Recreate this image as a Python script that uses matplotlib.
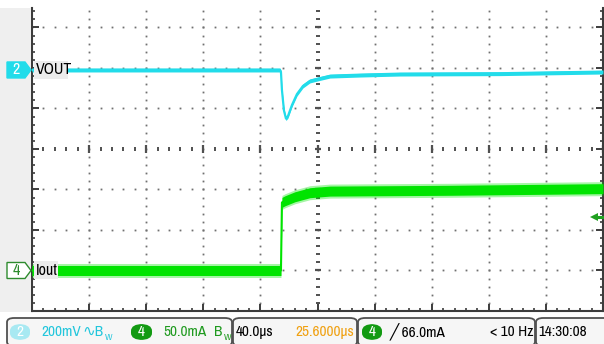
import matplotlib
matplotlib.use("Agg")
import logging
logging.getLogger("matplotlib.font_manager").setLevel(logging.ERROR)
import matplotlib.pyplot as plt
from matplotlib.patches import FancyBboxPatch, Polygon, Rectangle
from matplotlib.ticker import MultipleLocator
import numpy as np

# ---- acquisition settings -------------------------------------------------
CH2_SCALE_MV = 200.0    # mV/div
CH4_SCALE_MA = 50.0     # mA/div
TIME_SCALE_US = 40.0    # us/div
H_DELAY_US = 25.6       # trigger point to screen centre
CH2_POS = 1.95          # div
CH4_POS = -3.0          # div
TRIG_LEVEL_MA = 66.0

# ---- channel 2: VOUT (AC coupled), deviation in mV ------------------------
vout_t = [-174.4, -0.7, 0.0, 0.7, 2.1, 3.5, 4.9, 7.7, 11.2, 15.4, 20.3, 25.9,
          34.3, 55.3, 83.4, 153.4, 225.6]
vout_mv = [0, 0, -10, -100, -200, -240, -228, -173, -119, -79, -54, -44,
           -30, -25, -20, -18, -10]

# ---- channel 4: Iout, mA ---------------------------------------------------
iout_t = [-174.4, 0.0, 0.7, 2.8, 9.8, 20.3, 34.3, 120.0, 225.6]
iout_ma = [0, 0, 84, 86, 91, 96, 98, 99, 101]

W, H = 604, 344
fig = plt.figure(figsize=(W / 100, H / 100), dpi=100)
fig.patch.set_facecolor("white")

NARROW = ["Liberation Sans Narrow", "Arial Narrow", "Archivo Narrow",
          "PT Sans Narrow", "Roboto Condensed", "Open Sans Condensed",
          "Roboto", "DejaVu Sans"]


def fx(px):
    return px / W


def fy(py):
    return 1 - py / H


# screen area (top of graticule is cut off)
Y_TOP = 3.48
ax = fig.add_axes([fx(32), fy(311), fx(603) - fx(32), fy(8) - fy(311)])
ax.set_xlim(-5, 5)
ax.set_ylim(-4, Y_TOP)
ax.set_facecolor("white")

for s in ("left", "bottom", "right"):
    ax.spines[s].set_color("#3c3c3c")
    ax.spines[s].set_linewidth(1.5)
ax.spines["top"].set_visible(False)

ax.xaxis.set_major_locator(MultipleLocator(1))
ax.xaxis.set_minor_locator(MultipleLocator(0.2))
ax.yaxis.set_major_locator(MultipleLocator(1))
ax.yaxis.set_minor_locator(MultipleLocator(0.2))
ax.tick_params(which="both", direction="in", colors="#3c3c3c",
               labelbottom=False, labelleft=False,
               left=True, right=True, bottom=True, top=False)
ax.tick_params(which="major", length=5, width=1.4)
ax.tick_params(which="minor", length=2.5, width=1.2)

# dotted graticule
GRID = "#707070"
minor_x = np.arange(-5, 5.001, 0.2)
minor_y = np.arange(-4, Y_TOP, 0.2)
for xv in range(-4, 5):
    if xv == 0:
        continue
    ax.plot(np.full_like(minor_y, xv), minor_y, ls="none", marker="s",
            ms=1.3, color=GRID, mew=0, zorder=1)
for yv in (-3, -2, -1, 1, 2, 3):
    ax.plot(minor_x, np.full_like(minor_x, yv), ls="none", marker="s",
            ms=1.3, color=GRID, mew=0, zorder=1)

# centre cross with dashes
ax.plot(np.zeros_like(minor_y), minor_y, ls="none", marker="_", ms=3.5,
        mew=1.4, color="#505050", zorder=1)
ax.plot(np.zeros(8), np.arange(-4, 4), ls="none", marker="_", ms=5,
        mew=1.6, color="#505050", zorder=1)
ax.plot(minor_x, np.zeros_like(minor_x), ls="none", marker="|", ms=3.5,
        mew=1.4, color="#505050", zorder=1)
ax.plot(np.arange(-5, 6), np.zeros(11), ls="none", marker="|", ms=5.5,
        mew=1.6, color="#505050", zorder=1)


def tdiv(t):
    return (np.asarray(t, float) - H_DELAY_US) / TIME_SCALE_US


PX_DIV = 40.5   # screen pixels per vertical division
GREEN = "#00e400"
CYAN = "#22dcea"

# Iout: noisy band drawn as a vertical envelope plus thin core
ix = tdiv(iout_t)
iy = CH4_POS + np.asarray(iout_ma, float) / CH4_SCALE_MA
ax.fill_between(ix, iy - 7 / PX_DIV, iy + 7 / PX_DIV, color=GREEN,
                alpha=0.35, lw=0, zorder=3)
ax.fill_between(ix, iy - 5 / PX_DIV, iy + 5 / PX_DIV, color=GREEN,
                lw=0, zorder=3)
ax.plot(ix, iy, color=GREEN, lw=1.5, zorder=3)

# VOUT
vx = tdiv(vout_t)
vy = CH2_POS + np.asarray(vout_mv, float) / CH2_SCALE_MV
ax.fill_between(vx, vy - 2 / PX_DIV, vy + 2 / PX_DIV, color=CYAN, lw=0,
                zorder=4)
ax.plot(vx, vy, color=CYAN, lw=1.6, zorder=4)

# trigger level marker on the right edge
trig_y = CH4_POS + TRIG_LEVEL_MA / CH4_SCALE_MA
ax.plot([4.84], [trig_y], marker="<", ms=6, color="#20a020", mew=0,
        clip_on=False, zorder=6)
ax.plot([4.86, 4.98], [trig_y, trig_y], color="#20a020", lw=2.2,
        clip_on=False, zorder=6)

# left side panel
fig.patches.append(Rectangle((0, fy(312)), fx(31), fy(8) - fy(312),
                             transform=fig.transFigure, facecolor="#efefef",
                             edgecolor="none", zorder=0))


def ypix(div):
    disp = ax.transData.transform((0, div))
    return H - disp[1]


def chan_marker(label, py, face, edge, tcolor):
    pts = [(fx(7), fy(py - 8)), (fx(25), fy(py - 8)), (fx(31), fy(py)),
           (fx(25), fy(py + 8)), (fx(7), fy(py + 8))]
    fig.patches.append(Polygon(pts, closed=True, transform=fig.transFigure,
                               facecolor=face, edgecolor=edge, lw=1.0,
                               zorder=5))
    fig.text(fx(16), fy(py), label, color=tcolor, fontsize=11.5,
             family=NARROW, ha="center", va="center", zorder=6)


def trace_label(text, px0, px1, py):
    fig.patches.append(Rectangle((fx(px0), fy(py + 9)), fx(px1) - fx(px0),
                                 fy(py - 9) - fy(py + 9),
                                 transform=fig.transFigure,
                                 facecolor="#ececec", edgecolor="none",
                                 zorder=7))
    fig.text(fx(px0 + 2), fy(py), text, color="black", fontsize=11.5,
             family=NARROW, ha="left", va="center", zorder=8)


p2 = ypix(CH2_POS)
p4 = ypix(CH4_POS)
chan_marker("2", p2, CYAN, CYAN, "white")
chan_marker("4", p4, "white", "#2e8b2e", "#2e8b2e")
trace_label("VOUT", 34, 68, p2)
trace_label("Iout", 34, 58, p4)


# status bar
def seg(x0, x1):
    fig.patches.append(FancyBboxPatch((fx(x0), fy(346)), fx(x1) - fx(x0),
                                      fy(318) - fy(346),
                                      boxstyle="round,pad=0,rounding_size=0.012",
                                      transform=fig.transFigure,
                                      facecolor="#f6f6f6", edgecolor="#505050",
                                      lw=1.3, zorder=1))


seg(7, 232)
seg(233, 357)
seg(358, 535)
seg(536, 612)


def badge(label, x0, x1, face):
    fig.patches.append(FancyBboxPatch((fx(x0), fy(340)), fx(x1) - fx(x0),
                                      fy(324) - fy(340),
                                      boxstyle="round,pad=0,rounding_size=0.02",
                                      transform=fig.transFigure,
                                      facecolor=face, edgecolor="none",
                                      zorder=2))
    fig.text(fx((x0 + x1) / 2), fy(332), label, color="white", fontsize=11,
             family=NARROW, ha="center", va="center", zorder=3)


def status(text, px, color, ha="left", size=11):
    fig.text(fx(px), fy(332), text, color=color, fontsize=size,
             family=NARROW, ha=ha, va="center", zorder=3)


def subscript(text, px, color):
    fig.text(fx(px), fy(337), text, color=color, fontsize=7,
             family=NARROW, ha="left", va="center", zorder=3)


TXT_CYAN = "#22c6dc"
TXT_GREEN = "#1f9a1f"
badge("2", 10, 30, "#a8e9f2")
status("200mV", 41, TXT_CYAN)
status("\u223fB", 82, TXT_CYAN)
subscript("W", 105, TXT_CYAN)
badge("4", 131, 152, "#129a12")
status("50.0mA", 163, TXT_GREEN)
status("B", 214, TXT_GREEN)
subscript("W", 224, TXT_GREEN)
status("40.0\u00b5s", 236, "black")
status("25.6000\u00b5s", 354, "#f0a010", ha="right")
badge("4", 362, 382, "#129a12")
status("\u2571 66.0mA", 390, "black")
status("< 10 Hz", 533, "black", ha="right")
status("14:30:08", 538, "black")

fig.savefig("out.png", dpi=100, facecolor="white")
